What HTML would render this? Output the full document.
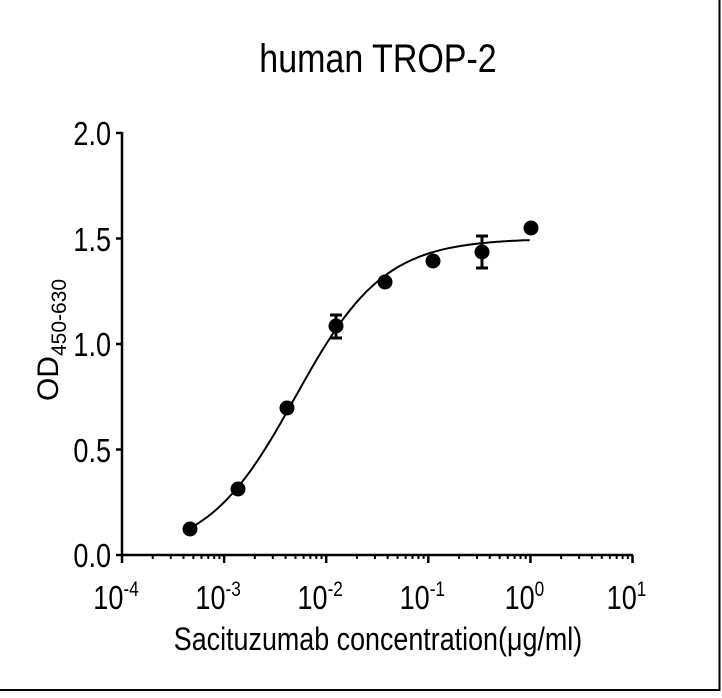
<!DOCTYPE html>
<html><head><meta charset="utf-8"><style>
html,body{margin:0;padding:0;background:#fff;}
svg text{font-family:"Liberation Sans",Arial,sans-serif;fill:#000;}
</style></head><body>
<svg id="s" width="722" height="693" viewBox="0 0 722 693" xmlns="http://www.w3.org/2000/svg">
<line x1="0" y1="690" x2="720" y2="690" stroke="#000" stroke-width="2"/>
<line x1="719.5" y1="0" x2="719.5" y2="691" stroke="#000" stroke-width="2"/>
<text x="378" y="72" font-size="40" text-anchor="middle" transform="translate(378 0) scale(0.85 1) translate(-378 0)">human TROP-2</text>
<g stroke="#000" stroke-width="2.5" fill="none">
<line x1="122" y1="132" x2="122" y2="556"/>
<line x1="121" y1="555" x2="633" y2="555"/>
</g>
<g id="ticks" stroke="#000" stroke-width="2.5"></g>
<g font-size="33" text-anchor="end">
<text x="111" y="567" transform="translate(111 0) scale(0.82 1) translate(-111 0)">0.0</text>
<text x="111" y="462" transform="translate(111 0) scale(0.82 1) translate(-111 0)">0.5</text>
<text x="111" y="356" transform="translate(111 0) scale(0.82 1) translate(-111 0)">1.0</text>
<text x="111" y="251" transform="translate(111 0) scale(0.82 1) translate(-111 0)">1.5</text>
<text x="111" y="145" transform="translate(111 0) scale(0.82 1) translate(-111 0)">2.0</text>
</g>
<g id="xl" font-size="33"></g>
<text x="378" y="650" font-size="32" text-anchor="middle" transform="translate(378 0) scale(0.84 1) translate(-378 0)">Sacituzumab concentration(μg/ml)</text>
<g transform="translate(58 340) rotate(-90)">
<text x="0" y="0" font-size="30" text-anchor="middle">OD<tspan font-size="21" dy="8">450-630</tspan></text>
</g>
<path id="curve" fill="none" stroke="#000" stroke-width="2"/>
<g id="pts"></g>
</svg>
<script>
var ns="http://www.w3.org/2000/svg";
function el(t,a,p){var e=document.createElementNS(ns,t);for(var k in a)e.setAttribute(k,a[k]);document.getElementById(p).appendChild(e);return e;}
function X(l){return 122+(l+4)*102.1;}
function Y(v){return 555-211*v;}
for(var i=0;i<=4;i++){el('line',{x1:116,x2:122,y1:Y(i*0.5),y2:Y(i*0.5)},'ticks');}
for(var d=-4;d<=1;d++){
 el('line',{x1:X(d),x2:X(d),y1:555,y2:563},'ticks');
 if(d<1)for(var m=2;m<=9;m++){var x=X(d+Math.log10(m));el('line',{x1:x,x2:x,y1:555,y2:559,'stroke-width':2},'ticks');}
 var cx=X(d)-6;
 var t=el('text',{x:cx,y:609,'text-anchor':'middle',transform:'translate('+cx+' 0) scale(0.82 1) translate('+(-cx)+' 0)'},'xl');
 t.textContent='10';var ts=document.createElementNS(ns,'tspan');ts.setAttribute('font-size','21');ts.setAttribute('dy','-13');ts.textContent=(d<0?'-':'')+Math.abs(d);t.appendChild(ts);
}
var T=1.5,B=0,ec=0.005,h=1.0,p='';
for(var l=Math.log10(0.00045);l<=0.001;l+=0.02){var c=Math.pow(10,l);var v=B+(T-B)/(1+Math.pow(ec/c,h));p+=(p?'L':'M')+X(l).toFixed(1)+' '+Y(v).toFixed(1);}
document.getElementById('curve').setAttribute('d',p);
var pts=[[190,529],[238,489],[287,408],[336,326],[385,282],[433,261],[482,252],[531,228]];
pts.forEach(function(q){el('circle',{cx:q[0],cy:q[1],r:7.5,fill:'#000'},'pts');});
[[336,315,338],[482,236,268]].forEach(function(e){
 el('line',{x1:e[0],x2:e[0],y1:e[1],y2:e[2],stroke:'#000','stroke-width':3},'pts');
 el('line',{x1:e[0]-6,x2:e[0]+6,y1:e[1],y2:e[1],stroke:'#000','stroke-width':3},'pts');
 el('line',{x1:e[0]-6,x2:e[0]+6,y1:e[2],y2:e[2],stroke:'#000','stroke-width':3},'pts');
});
</script>
</body></html>
